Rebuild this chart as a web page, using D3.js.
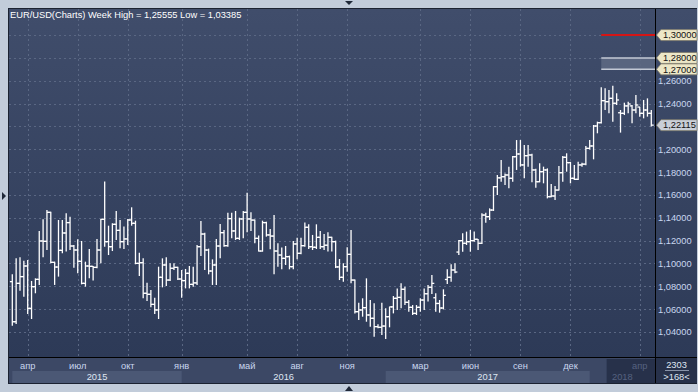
<!DOCTYPE html>
<meta charset="utf-8">
<style>
    body { margin: 0; background: #c2ccda; }
    svg { display: block; }
    text { font-family: "Liberation Sans", Arial, sans-serif; font-size: 9.3px; }
    .grid line { stroke: #5a6783; stroke-width: 1; stroke-dasharray: 2, 3; }
    .bar line { stroke: #ffffff; stroke-width: 1.3; }
    .yAxis text { fill: #c9d6ef; }
    .month { fill: #c9d6ef; text-anchor: middle; }
    .year { fill: #dfe6f2; text-anchor: middle; }
    .dim { fill: #566280; }
</style>
<body>
    <svg width="698" height="392"></svg>
</body>
<script src="https://cdn.jsdelivr.net/npm/d3@7"></script>
<script>

    // weekly EUR/USD bars
    var opens = [1.0841,1.0490,1.0826,1.0885,1.0978,1.0607,1.0797,1.0861,1.1197,1.1194,
        1.1448,1.1010,1.0969,1.1115,1.1267,1.1358,1.1153,1.1118,1.1019,1.0826,
        1.0978,1.0975,1.0966,1.1118,1.1387,1.1191,1.1147,1.1343,1.1290,1.1191,
        1.1215,1.1381,1.1352,1.1001,1.1007,1.0739,1.0730,1.0642,1.0593,1.0879,
        1.0987,1.0855,1.0958,1.0966,1.0864,1.0850,1.0914,1.0817,1.0830,1.1147,
        1.1258,1.1118,1.0934,1.0987,1.1153,1.1270,1.1156,1.1393,1.1285,1.1220,
        1.1390,1.1448,1.1390,1.1380,1.1220,1.1109,1.1358,1.1250,1.1240,1.1109,
        1.1074,1.1045,1.1060,1.0972,1.1171,1.1089,1.1156,1.1317,1.1147,1.1142,
        1.1229,1.1147,1.1160,1.1229,1.1191,1.0970,1.0879,1.0972,1.1080,1.0855,
        1.0578,1.0593,1.0613,1.0549,1.0520,1.0447,1.0441,1.0452,1.0534,1.0620,
        1.0695,1.0703,1.0774,1.0660,1.0616,1.0563,1.0616,1.0680,1.0735,1.0791,
        1.0700,1.0650,1.0610,1.0860,1.0879,1.0943,1.1100,1.1200,1.1177,1.1191,
        1.1200,1.1212,1.1177,1.1424,1.1410,1.1468,1.1673,1.1750,1.1760,1.1775,
        1.1746,1.1935,1.1959,1.1863,1.1944,1.1950,1.1819,1.1716,1.1804,1.1819,
        1.1585,1.1591,1.1643,1.1795,1.1930,1.1883,1.1746,1.1737,1.1863,1.1870,
        1.2008,1.2029,1.2204,1.2233,1.2426,1.2417,1.2446,1.2403,1.2320,1.2315,
        1.2380,1.2380,1.2344,1.2370,1.2315,1.2344,1.2315];
    var highs = [1.0905,1.1045,1.1054,1.1025,1.1031,1.0847,1.0870,1.1285,1.1387,1.1469,
        1.1454,1.1016,1.1381,1.1381,1.1439,1.1410,1.1162,1.1212,1.1197,1.1016,
        1.1127,1.0978,1.1215,1.1390,1.1717,1.1331,1.1352,1.1460,1.1381,1.1323,
        1.1390,1.1492,1.1375,1.1095,1.1045,1.0832,1.0768,1.0701,1.0972,1.1045,
        1.1054,1.1001,1.1001,1.0972,1.0943,1.0952,1.0978,1.0972,1.1162,1.1372,
        1.1270,1.1130,1.1036,1.1215,1.1346,1.1293,1.1445,1.1445,1.1460,1.1401,
        1.1460,1.1620,1.1448,1.1385,1.1244,1.1375,1.1366,1.1302,1.1425,1.1177,
        1.1139,1.1153,1.1069,1.1197,1.1226,1.1226,1.1358,1.1343,1.1250,1.1343,
        1.1285,1.1258,1.1273,1.1235,1.1200,1.1039,1.1001,1.1142,1.1293,1.0860,
        1.0657,1.0695,1.0870,1.0680,1.0651,1.0467,1.0657,1.0607,1.0622,1.0715,
        1.0782,1.0826,1.0797,1.0680,1.0636,1.0636,1.0695,1.0782,1.0812,1.0899,
        1.0740,1.0680,1.0774,1.0949,1.0993,1.1001,1.1206,1.1264,1.1279,1.1293,
        1.1279,1.1215,1.1439,1.1445,1.1483,1.1678,1.1775,1.1906,1.1789,1.1848,
        1.1941,1.2081,1.2081,1.2038,1.2038,1.1960,1.1830,1.1877,1.1848,1.1833,
        1.1696,1.1678,1.1854,1.1941,1.1965,1.1890,1.1863,1.1892,1.1883,1.2029,
        1.2081,1.2213,1.2242,1.2543,1.2534,1.2519,1.25555,1.2490,1.2344,1.2408,
        1.2417,1.2388,1.2476,1.2373,1.2432,1.2446,1.2344];
    var lows = [1.0455,1.0470,1.0762,1.0709,1.0558,1.0514,1.0739,1.0812,1.1054,1.1118,
        1.1001,1.0812,1.0885,1.1089,1.1104,1.1118,1.0963,1.0914,1.0817,1.0797,
        1.0870,1.0850,1.0958,1.1001,1.1147,1.1074,1.1109,1.1206,1.1133,1.1127,
        1.1162,1.1331,1.0993,1.0890,1.0695,1.0671,1.0616,1.0558,1.0514,1.0791,
        1.0803,1.0847,1.0943,1.0855,1.0701,1.0782,1.0782,1.0797,1.0812,1.1066,
        1.0943,1.0905,1.0812,1.0812,1.1045,1.1147,1.1147,1.1220,1.1206,1.1206,
        1.1220,1.1273,1.1285,1.1177,1.1104,1.1104,1.1235,1.1124,1.0905,1.0972,
        1.0949,1.0987,1.0949,1.0949,1.1036,1.1080,1.1147,1.1127,1.1118,1.1127,
        1.1127,1.1118,1.1104,1.1104,1.0960,1.0855,1.0841,1.0928,1.0826,1.0563,
        1.0505,1.0534,1.0490,1.0447,1.0359,1.0432,1.0374,1.03385,1.0441,1.0563,
        1.0592,1.0607,1.0636,1.0578,1.0549,1.0549,1.0578,1.0592,1.0666,1.0733,
        1.0578,1.0569,1.0598,1.0820,1.0841,1.0914,1.1074,1.1103,1.1162,1.1103,
        1.1191,1.1118,1.1170,1.1357,1.1381,1.1460,1.1600,1.1716,1.1687,1.1658,
        1.1716,1.1819,1.1848,1.1746,1.1848,1.1711,1.1664,1.1711,1.1702,1.1570,
        1.1579,1.1556,1.1640,1.1716,1.1804,1.1702,1.1731,1.1730,1.1848,1.1860,
        1.1999,1.1912,1.2140,1.2225,1.2344,1.2315,1.2242,1.2388,1.2146,1.2300,
        1.2315,1.2227,1.2315,1.2286,1.2271,1.2286,1.2200];
    var closes = [1.0490,1.0826,1.0885,1.0978,1.0607,1.0797,1.0861,1.1197,1.1194,1.1448,
        1.1010,1.0969,1.1115,1.1267,1.1358,1.1153,1.1118,1.1019,1.0826,1.0978,
        1.0975,1.0966,1.1118,1.1387,1.1191,1.1147,1.1343,1.1290,1.1191,1.1215,
        1.1381,1.1352,1.1001,1.1007,1.0739,1.0730,1.0642,1.0593,1.0879,1.0987,
        1.0855,1.0958,1.0966,1.0864,1.0850,1.0914,1.0817,1.0830,1.1147,1.1258,
        1.1118,1.0934,1.0987,1.1153,1.1270,1.1156,1.1393,1.1285,1.1220,1.1390,
        1.1448,1.1390,1.1380,1.1220,1.1109,1.1358,1.1250,1.1240,1.1109,1.1074,
        1.1045,1.1060,1.0972,1.1171,1.1089,1.1156,1.1317,1.1147,1.1142,1.1229,
        1.1147,1.1160,1.1229,1.1191,1.0970,1.0879,1.0972,1.1080,1.0855,1.0578,
        1.0593,1.0613,1.0549,1.0520,1.0447,1.0441,1.0452,1.0534,1.0620,1.0695,
        1.0703,1.0774,1.0660,1.0616,1.0563,1.0616,1.0680,1.0735,1.0791,1.0826,
        1.0650,1.0610,1.0721,1.0879,1.0943,1.0925,1.1200,1.1177,1.1191,1.1200,
        1.1212,1.1177,1.1424,1.1410,1.1468,1.1673,1.1750,1.1760,1.1775,1.1746,
        1.1935,1.1959,1.1863,1.1944,1.1950,1.1819,1.1716,1.1804,1.1819,1.1585,
        1.1591,1.1643,1.1795,1.1930,1.1883,1.1746,1.1737,1.1863,1.1870,1.2008,
        1.2029,1.2204,1.2233,1.2426,1.2417,1.2446,1.2403,1.2432,1.2315,1.2380,
        1.2397,1.2344,1.2388,1.2315,1.2344,1.2315,1.22115];

    // x-axis labels (bar index of first week of the month)
    var monthLabels = ["апр","июл","окт","янв","май","авг","ноя","мар","июн","сен","дек","апр"];
    var monthBars = [4, 17, 30, 44, 61, 74, 87, 106, 119, 132, 145, 163];
    var yearLabels = ["2015", "2016", "2017", "2018"];
    var yearStarts = [0, 44, 97, 150];
    var futureFrom = 154.4;          // greyed part of the time axis

    // price axis
    var gridPrices = [1.04,1.06,1.08,1.10,1.12,1.14,1.16,1.18,1.20,1.22,1.24,1.26,1.28,1.30];
    var axisPrices = [1.04,1.06,1.08,1.10,1.12,1.14,1.16,1.18,1.20,1.24,1.26];
    var levelPrice = 1.30;
    var bandPrices = [1.28, 1.27];
    var levelFrom = 153;
    var barCount = 2303, visibleCount = 168;

    var svg = d3.select("svg"),
        width = +svg.attr("width"),
        height = +svg.attr("height");

    var plotL = 9, plotR = 655, plotT = 9, plotB = 357, axisB = 383;
    var n = opens.length;

    var x = d3.scaleLinear().domain([0, n - 1]).range([12.3, 651.3]);
    var y = d3.scaleLinear().domain([1.04, 1.30]).range([332, 35.1]);
    var fmt = function (v) { return d3.format(".5f")(v).replace(".", ","); };

    var defs = svg.append("defs");
    var grad = defs.append("linearGradient").attr("id", "bg").attr("x1", 0).attr("y1", 0).attr("x2", 0).attr("y2", 1);
    grad.append("stop").attr("offset", "0%").attr("stop-color", "#404d6b");
    grad.append("stop").attr("offset", "100%").attr("stop-color", "#2d3a57");

    // frame and panels
    svg.append("rect").attr("width", width).attr("height", height).attr("fill", "#c2ccda");
    svg.append("rect").attr("x", 8).attr("y", 8).attr("width", width - 9).attr("height", axisB - 7).attr("fill", "#1b2231");
    svg.append("rect").attr("x", plotL).attr("y", plotT).attr("width", width - 1 - plotL).attr("height", plotB - plotT)
        .attr("fill", "url(#bg)");
    svg.append("rect").attr("x", plotL).attr("y", plotB + 1).attr("width", plotR - plotL).attr("height", axisB - plotB - 1)
        .attr("fill", "#3c4865");
    svg.append("rect").attr("x", plotR + 1).attr("y", plotB + 1).attr("width", width - 2 - plotR).attr("height", axisB - plotB - 1)
        .attr("fill", "#27314a");

    // little scroll arrows on the frame
    svg.append("path").attr("d", "M345,1 L353,1 L349,5 Z").attr("fill", "#1f2838");
    svg.append("path").attr("d", "M345,391 L353,391 L349,386 Z").attr("fill", "#1f2838");
    svg.append("path").attr("d", "M2,192 L2,200 L6,196 Z").attr("fill", "#1f2838");

    // grid
    var grid = svg.append("g").attr("class", "grid");
    grid.selectAll(".h").data(gridPrices).enter().append("line")
        .attr("x1", plotL).attr("x2", plotR)
        .attr("y1", function (d) { return Math.round(y(d)) + 0.5; })
        .attr("y2", function (d) { return Math.round(y(d)) + 0.5; });
    grid.selectAll(".v").data(monthBars).enter().append("line")
        .attr("y1", plotT).attr("y2", plotB)
        .attr("x1", function (d) { return Math.round(x(d)) + 0.5; })
        .attr("x2", function (d) { return Math.round(x(d)) + 0.5; });

    // 1.27 - 1.28 band and 1.30 level
    svg.append("rect")
        .attr("x", x(levelFrom)).attr("width", plotR - x(levelFrom))
        .attr("y", y(bandPrices[0])).attr("height", y(bandPrices[1]) - y(bandPrices[0]))
        .attr("fill", "#5c6882").attr("fill-opacity", 0.9);
    svg.selectAll(".bandLine").data(bandPrices).enter().append("line")
        .attr("x1", x(levelFrom)).attr("x2", plotR)
        .attr("y1", function (d) { return y(d); }).attr("y2", function (d) { return y(d); })
        .attr("stroke", "#c3c9d5").attr("stroke-width", 1.5);
    svg.append("line")
        .attr("x1", x(levelFrom)).attr("x2", plotR)
        .attr("y1", y(levelPrice)).attr("y2", y(levelPrice))
        .attr("stroke", "#d41515").attr("stroke-width", 2);

    // OHLC bars
    var bars = svg.append("g").selectAll(".bar")
        .data(d3.range(n))
        .enter().append("g")
        .attr("class", "bar")
        .attr("transform", function (i) { return "translate(" + x(i) + ",0)"; });
    bars.append("line")
        .attr("y1", function (i) { return y(highs[i]); })
        .attr("y2", function (i) { return y(lows[i]); });
    bars.append("line")
        .attr("x1", -2.4).attr("x2", 0)
        .attr("y1", function (i) { return y(opens[i]); })
        .attr("y2", function (i) { return y(opens[i]); });
    bars.append("line")
        .attr("x1", 0).attr("x2", 2.4)
        .attr("y1", function (i) { return y(closes[i]); })
        .attr("y2", function (i) { return y(closes[i]); });

    // separators
    svg.append("line").attr("x1", plotR + 0.5).attr("x2", plotR + 0.5).attr("y1", plotT).attr("y2", axisB)
        .attr("stroke", "#000");
    svg.append("line").attr("x1", plotL).attr("x2", width - 1).attr("y1", plotB + 0.5).attr("y2", plotB + 0.5)
        .attr("stroke", "#000");

    // right price axis
    var yAxis = svg.append("g").attr("class", "yAxis")
        .attr("transform", "translate(" + plotR + ",0)")
        .call(d3.axisRight(y).tickValues(axisPrices).tickSize(0).tickPadding(3).tickFormat(fmt));
    yAxis.select(".domain").remove();
    yAxis.selectAll("text").style("font-size", "9.3px").style("font-family", "Liberation Sans, Arial, sans-serif");

    // price tags
    var tags = [
        { v: levelPrice, fill: "#ede7c7" },
        { v: bandPrices[0], fill: "#ede7c7" },
        { v: bandPrices[1], fill: "#ede7c7" },
        { v: closes[n - 1], fill: "#c9ced7" }
    ];
    var tag = svg.selectAll(".tag").data(tags).enter().append("g")
        .attr("transform", function (d) { return "translate(" + (plotR + 1) + "," + y(d.v) + ")"; });
    tag.append("path")
        .attr("d", "M0.5,0 L5,-5.5 L41,-5.5 L41,5.5 L5,5.5 Z")
        .attr("fill", function (d) { return d.fill; })
        .attr("stroke", "#7d7a6a").attr("stroke-width", 0.8);
    tag.append("text")
        .attr("x", 7).attr("dy", "0.35em")
        .attr("fill", "#111")
        .text(function (d) { return fmt(d.v); });

    // time axis: year bands, months, years
    var yearEnds = yearStarts.slice(1).concat([n - 1]);
    svg.selectAll(".yband").data([0, 2]).enter().append("rect")
        .attr("x", function (k) { return x(yearStarts[k]); })
        .attr("width", function (k) { return x(yearEnds[k]) - x(yearStarts[k]); })
        .attr("y", 371).attr("height", axisB - 371)
        .attr("fill", "#4b5875");
    svg.append("rect")
        .attr("x", x(futureFrom)).attr("width", plotR - x(futureFrom))
        .attr("y", 359).attr("height", axisB - 359)
        .attr("fill", "#27314a");

    svg.selectAll(".month").data(monthLabels).enter().append("text")
        .attr("class", function (d, i) { return "month" + (monthBars[i] > futureFrom ? " dim" : ""); })
        .attr("x", function (d, i) { return x(monthBars[i]); })
        .attr("y", 368.5)
        .text(function (d) { return d; });

    svg.selectAll(".year").data(yearLabels).enter().append("text")
        .attr("class", function (d, i) { return "year" + (i === yearLabels.length - 1 ? " dim" : ""); })
        .attr("x", function (d, i) {
            var a = x(yearStarts[i]), b = i === yearLabels.length - 1 ? plotR : x(yearEnds[i]);
            return (a + b) / 2;
        })
        .attr("y", 379.5)
        .text(function (d) { return d; });

    // counters in the corner
    svg.append("text").attr("x", 676.5).attr("y", 368).attr("text-anchor", "middle")
        .attr("fill", "#dfe6f2").text(barCount);
    svg.append("line").attr("x1", 665).attr("x2", 689).attr("y1", 370.5).attr("y2", 370.5)
        .attr("stroke", "#8893a8");
    svg.append("text").attr("x", 676.5).attr("y", 380).attr("text-anchor", "middle")
        .attr("fill", "#dfe6f2").text(">" + visibleCount + "<");

    // title
    svg.append("text").attr("x", 10).attr("y", 18.3).attr("fill", "#ffffff")
        .text("EUR/USD(Charts) Week High = " + fmt(d3.max(highs)) + " Low = " + fmt(d3.min(lows)));

</script>
